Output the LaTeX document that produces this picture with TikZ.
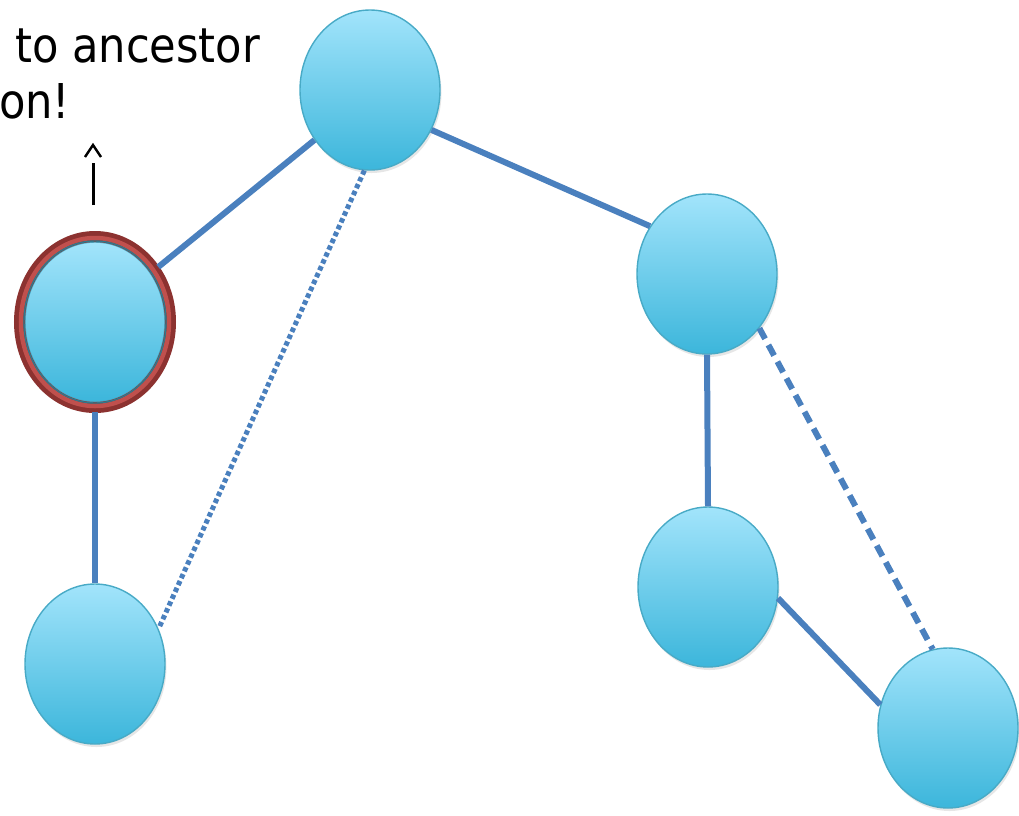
\documentclass[tikz,border=0pt]{standalone}
\usepackage{fontspec}
\setmainfont{DejaVu Sans Condensed}
\usetikzlibrary{shapes.geometric,shadows}
\definecolor{edgeblue}{RGB}{74,128,190}
\definecolor{nodetop}{RGB}{162,228,251}
\definecolor{nodebot}{RGB}{60,182,219}
\definecolor{nodeline}{RGB}{72,170,198}
\definecolor{ringdark}{RGB}{140,50,48}
\definecolor{ringlight}{RGB}{192,80,77}
\tikzset{
  vertex/.style={ellipse, minimum width=140pt, minimum height=160pt, inner sep=0pt,
    top color=nodetop, bottom color=nodebot, draw=nodeline, line width=1.4pt,
    drop shadow={opacity=0.2, shadow xshift=1.5pt, shadow yshift=-3pt}},
  treeedge/.style={draw=edgeblue, line width=6pt},
  backedge/.style={draw=edgeblue, line width=5pt, dash pattern=on 4.5pt off 3pt},
  crossedge/.style={draw=edgeblue, line width=6pt, dash pattern=on 12pt off 7pt},
  caption/.style={anchor=base west, inner sep=0pt, font=\fontsize{48}{58}\selectfont},
}
\begin{document}
\begin{tikzpicture}[x=1pt,y=-1pt]
\useasboundingbox (0,0) rectangle (1019,815);

% the depth-first tree
\node[vertex] (root) at (370,90) {};
\node[vertex, outer sep=10pt] (cur) at (95,322) {};
\node[vertex] (leafl) at (95,664) {};
\node[vertex] (right) at (707,274) {};
\node[vertex] (mid) at (708,587) {};
\node[vertex] (leafr) at (948,728) {};

% highlighted ring round the current vertex
\draw[ringdark, line width=11pt] (cur.center) ellipse [x radius=75.5pt, y radius=85.5pt];
\draw[ringlight, line width=4.5pt] (cur.center) ellipse [x radius=74pt, y radius=84pt];
\draw[nodeline!70!black, line width=1.4pt] (cur.center) ellipse [x radius=71pt, y radius=81pt];

% tree edges
\draw[treeedge] (root.222) -- (cur.41);
\draw[treeedge] (root.-33) -- (right.140);
\draw[treeedge] (cur.south) -- (leafl.north);
\draw[treeedge] (right.south) -- (mid.north);
\draw[treeedge] (mid.-9) -- (leafr.161);

% non-tree edges
\draw[backedge] (root.266) -- (leafl.29);
\draw[crossedge] (right.-46) -- (leafr.101);

% label with its pointer
\node[caption] (lab1) at (15,62) {to ancestor};
\node[caption] (lab2) at (-1,118) {on!};
\coordinate (pfoot) at (93,205);
\coordinate (phead) at (93,163);
\draw[line width=3pt] (pfoot) -- (phead);
\draw[line width=2.4pt, line join=miter] (85,157) -- (93,145) -- (101,157);
\end{tikzpicture}
\end{document}
